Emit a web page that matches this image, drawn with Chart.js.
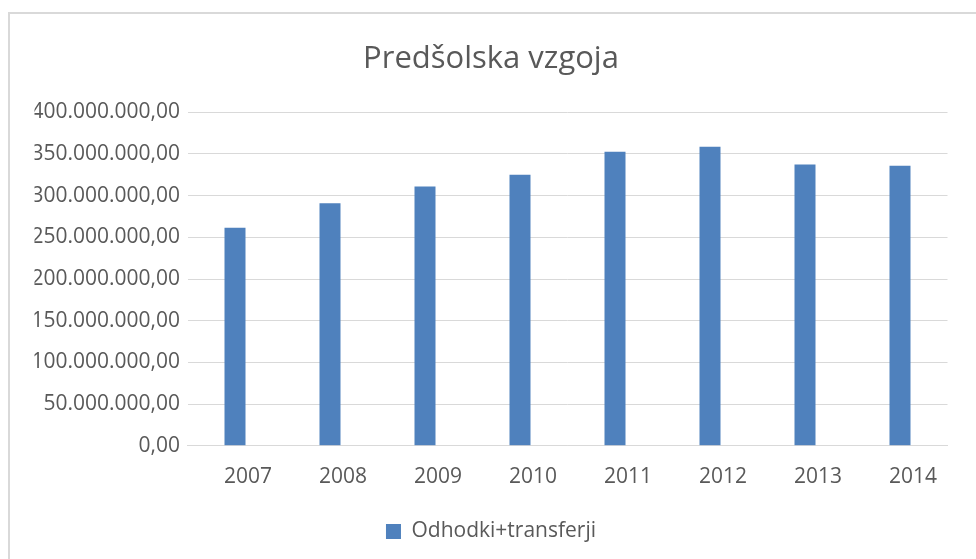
<!DOCTYPE html>
<html>
<head>
<meta charset="utf-8">
<script src="https://cdn.jsdelivr.net/npm/chart.js@4"></script>
<style>
  html, body { margin: 0; padding: 0; background: #ffffff; overflow: hidden; }
  #frame { position: absolute; left: 8px; top: 12px; width: 1100px; height: 700px;
           border-left: 2px solid #d9d9d9; border-top: 2px solid #d9d9d9; }
  #wrap { position: absolute; left: 0; top: 0; width: 976px; height: 559px; }
</style>
</head>
<body>
<div id="frame"></div>
<div id="wrap"><canvas id="c" width="976" height="559"></canvas></div>
<script>
const titleText = 'Predšolska vzgoja';
const categories = ['2007', '2008', '2009', '2010', '2011', '2012', '2013', '2014'];
const seriesName = 'Odhodki+transferji';
const seriesValues = [261400000, 290700000, 310800000, 325000000, 352600000, 358700000, 337300000, 335800000];
const yTicks = [0, 50000000, 100000000, 150000000, 200000000, 250000000, 300000000, 350000000, 400000000];

function fmt(v) {
  const s = Math.round(v).toString().replace(/\B(?=(\d{3})+(?!\d))/g, '.');
  return s + ',00';
}

const grey = '#595959';
const font = 'Open Sans';

new Chart(document.getElementById('c'), {
  type: 'bar',
  data: {
    labels: categories,
    datasets: [{
      label: seriesName,
      data: seriesValues,
      backgroundColor: '#4f81bd',
      borderWidth: 0,
      categoryPercentage: 1,
      barPercentage: 0.221
    }]
  },
  options: {
    responsive: false,
    animation: false,
    devicePixelRatio: 1,
    layout: { padding: { left: 34.5, right: 28.5, top: 0, bottom: 7 } },
    plugins: {
      title: {
        display: true,
        text: titleText,
        color: grey,
        font: { family: font, size: 31, weight: 'normal' },
        padding: { top: 41, bottom: 34 }
      },
      legend: {
        display: true,
        position: 'bottom',
        labels: {
          color: grey,
          font: { family: font, size: 21 },
          boxWidth: 15,
          boxHeight: 15,
          padding: 7.5
        }
      },
      tooltip: { enabled: false }
    },
    scales: {
      x: {
        afterFit: (s) => { s.height = 67.7; },
        grid: { display: false, drawTicks: false },
        border: { display: true, color: '#d9d9d9', width: 1 },
        ticks: { color: grey, font: { family: font, size: 21 }, padding: 19, labelOffset: 13, maxRotation: 0 }
      },
      y: {
        min: 0,
        max: 400000000,
        afterFit: (s) => { s.width = 187.5 - 34.5; },
        afterBuildTicks: (s) => { s.ticks = yTicks.map(v => ({ value: v })); },
        grid: { color: '#d9d9d9', lineWidth: 1, drawTicks: false },
        border: { display: false },
        ticks: { color: grey, font: { family: font, size: 21 }, padding: 7.5, callback: (v) => fmt(v) }
      }
    }
  }
});
</script>
</body>
</html>
